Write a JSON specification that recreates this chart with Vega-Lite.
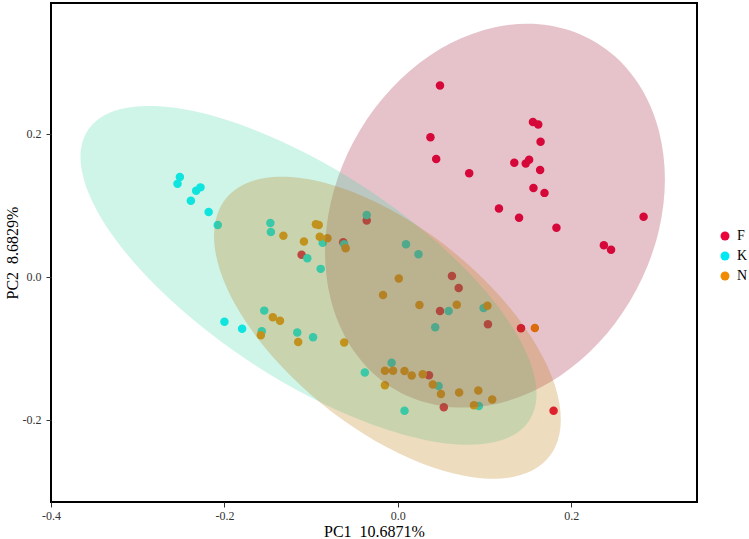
{
  "$schema": "https://vega.github.io/schema/vega-lite/v6.json",
  "width": 646,
  "height": 499,
  "padding": {"left": 4, "top": 3, "right": 0, "bottom": 0},
  "autosize": {"type": "pad"},
  "background": "white",
  "config": {
    "view": {"stroke": "#000000", "strokeWidth": 2},
    "font": "Liberation Serif",
    "axis": {
      "domain": false,
      "grid": false,
      "ticks": true,
      "tickColor": "#333333",
      "tickSize": 5,
      "labelFlush": false,
      "labelFont": "Liberation Serif",
      "labelFontSize": 12,
      "labelColor": "#333333",
      "titleFont": "Liberation Serif",
      "titleFontSize": 16,
      "titleFontWeight": "normal",
      "titleColor": "#000000"
    }
  },
  "datasets": {
    "pts": [
      {"g": "F", "x": 0.0486, "y": 0.2676}, {"g": "F", "x": 0.1558, "y": 0.2164}, {"g": "F", "x": 0.1619, "y": 0.2130},
      {"g": "F", "x": 0.0376, "y": 0.1952}, {"g": "F", "x": 0.1646, "y": 0.1889}, {"g": "F", "x": 0.0442, "y": 0.1647},
      {"g": "F", "x": 0.1343, "y": 0.1594}, {"g": "F", "x": 0.1475, "y": 0.1585}, {"g": "F", "x": 0.1514, "y": 0.1638},
      {"g": "F", "x": 0.1641, "y": 0.1493}, {"g": "F", "x": 0.0823, "y": 0.1449}, {"g": "F", "x": 0.1564, "y": 0.1242},
      {"g": "F", "x": 0.1691, "y": 0.1174}, {"g": "F", "x": 0.1166, "y": 0.0957}, {"g": "F", "x": 0.1398, "y": 0.0826},
      {"g": "F", "x": 0.2834, "y": 0.0841}, {"g": "F", "x": 0.1829, "y": 0.0686}, {"g": "F", "x": 0.2376, "y": 0.0440},
      {"g": "F", "x": 0.2459, "y": 0.0377}, {"g": "F", "x": -0.0359, "y": 0.0787}, {"g": "F", "x": -0.0630, "y": 0.0483},
      {"g": "F", "x": -0.1110, "y": 0.0309}, {"g": "F", "x": 0.0624, "y": 0.0010}, {"g": "F", "x": 0.0702, "y": -0.0155},
      {"g": "F", "x": 0.0486, "y": -0.0478}, {"g": "F", "x": 0.1039, "y": -0.0662}, {"g": "F", "x": 0.1420, "y": -0.0720},
      {"g": "F", "x": 0.0359, "y": -0.1377}, {"g": "F", "x": 0.0530, "y": -0.1826}, {"g": "F", "x": 0.1796, "y": -0.1874},
      {"g": "K", "x": -0.2514, "y": 0.1396}, {"g": "K", "x": -0.2541, "y": 0.1300}, {"g": "K", "x": -0.2276, "y": 0.1251},
      {"g": "K", "x": -0.2326, "y": 0.1203}, {"g": "K", "x": -0.2387, "y": 0.1063}, {"g": "K", "x": -0.2182, "y": 0.0908},
      {"g": "K", "x": -0.2077, "y": 0.0725}, {"g": "K", "x": -0.1470, "y": 0.0754}, {"g": "K", "x": -0.1464, "y": 0.0628},
      {"g": "K", "x": -0.0359, "y": 0.0865}, {"g": "K", "x": -0.0867, "y": 0.0478}, {"g": "K", "x": -0.0619, "y": 0.0454},
      {"g": "K", "x": -0.1044, "y": 0.0261}, {"g": "K", "x": -0.0890, "y": 0.0111}, {"g": "K", "x": 0.0094, "y": 0.0454},
      {"g": "K", "x": 0.0238, "y": 0.0314}, {"g": "K", "x": 0.0586, "y": -0.0478}, {"g": "K", "x": 0.0989, "y": -0.0435},
      {"g": "K", "x": 0.0431, "y": -0.0705}, {"g": "K", "x": -0.2000, "y": -0.0628}, {"g": "K", "x": -0.1796, "y": -0.0725},
      {"g": "K", "x": -0.1541, "y": -0.0473}, {"g": "K", "x": -0.1569, "y": -0.0763}, {"g": "K", "x": -0.1160, "y": -0.0778},
      {"g": "K", "x": -0.0978, "y": -0.0845}, {"g": "K", "x": -0.0072, "y": -0.1203}, {"g": "K", "x": -0.0381, "y": -0.1338},
      {"g": "K", "x": 0.0470, "y": -0.1527}, {"g": "K", "x": 0.0934, "y": -0.1807}, {"g": "K", "x": 0.0077, "y": -0.1874},
      {"g": "N", "x": -0.1320, "y": 0.0575}, {"g": "N", "x": -0.1083, "y": 0.0493}, {"g": "N", "x": -0.0945, "y": 0.0734},
      {"g": "N", "x": -0.0912, "y": 0.0725}, {"g": "N", "x": -0.0901, "y": 0.0560}, {"g": "N", "x": -0.0812, "y": 0.0541},
      {"g": "N", "x": -0.0602, "y": 0.0401}, {"g": "N", "x": 0.0011, "y": -0.0024}, {"g": "N", "x": -0.0171, "y": -0.0256},
      {"g": "N", "x": 0.0249, "y": -0.0396}, {"g": "N", "x": 0.0680, "y": -0.0391}, {"g": "N", "x": 0.1033, "y": -0.0406},
      {"g": "N", "x": 0.1580, "y": -0.0715}, {"g": "N", "x": -0.1442, "y": -0.0565}, {"g": "N", "x": -0.1359, "y": -0.0614},
      {"g": "N", "x": -0.1580, "y": -0.0816}, {"g": "N", "x": -0.1149, "y": -0.0913}, {"g": "N", "x": -0.0619, "y": -0.0918},
      {"g": "N", "x": -0.0149, "y": -0.1314}, {"g": "N", "x": -0.0055, "y": -0.1314}, {"g": "N", "x": 0.0077, "y": -0.1319},
      {"g": "N", "x": 0.0160, "y": -0.1382}, {"g": "N", "x": 0.0287, "y": -0.1362}, {"g": "N", "x": 0.0403, "y": -0.1507},
      {"g": "N", "x": -0.0149, "y": -0.1517}, {"g": "N", "x": 0.0497, "y": -0.1638}, {"g": "N", "x": 0.0707, "y": -0.1618},
      {"g": "N", "x": 0.0928, "y": -0.1589}, {"g": "N", "x": 0.1088, "y": -0.1715}, {"g": "N", "x": 0.0878, "y": -0.1797}
    ],
    "ell": [
      {"g": "F", "o": 0, "x": 0.308, "y": 0.1365}, {"g": "F", "o": 1, "x": 0.3013, "y": 0.2030}, {"g": "F", "o": 2, "x": 0.2817, "y": 0.2615},
      {"g": "F", "o": 3, "x": 0.2506, "y": 0.3080}, {"g": "F", "o": 4, "x": 0.210, "y": 0.3393}, {"g": "F", "o": 5, "x": 0.1627, "y": 0.3533},
      {"g": "F", "o": 6, "x": 0.112, "y": 0.3491}, {"g": "F", "o": 7, "x": 0.0613, "y": 0.3269}, {"g": "F", "o": 8, "x": 0.014, "y": 0.2883},
      {"g": "F", "o": 9, "x": -0.0266, "y": 0.2358}, {"g": "F", "o": 10, "x": -0.0577, "y": 0.1731}, {"g": "F", "o": 11, "x": -0.0773, "y": 0.1044},
      {"g": "F", "o": 12, "x": -0.084, "y": 0.0345}, {"g": "F", "o": 13, "x": -0.0773, "y": -0.0320}, {"g": "F", "o": 14, "x": -0.0577, "y": -0.0905},
      {"g": "F", "o": 15, "x": -0.0266, "y": -0.1370}, {"g": "F", "o": 16, "x": 0.014, "y": -0.1683}, {"g": "F", "o": 17, "x": 0.0613, "y": -0.1823},
      {"g": "F", "o": 18, "x": 0.112, "y": -0.1781}, {"g": "F", "o": 19, "x": 0.1627, "y": -0.1559}, {"g": "F", "o": 20, "x": 0.210, "y": -0.1173},
      {"g": "F", "o": 21, "x": 0.2506, "y": -0.0648}, {"g": "F", "o": 22, "x": 0.2817, "y": -0.0021}, {"g": "F", "o": 23, "x": 0.3013, "y": 0.0666},
      {"g": "K", "o": 0, "x": 0.160, "y": -0.1639}, {"g": "K", "o": 1, "x": 0.151, "y": -0.1144}, {"g": "K", "o": 2, "x": 0.1248, "y": -0.0571},
      {"g": "K", "o": 3, "x": 0.083, "y": 0.0043}, {"g": "K", "o": 4, "x": 0.0285, "y": 0.0655}, {"g": "K", "o": 5, "x": -0.0349, "y": 0.1225},
      {"g": "K", "o": 6, "x": -0.103, "y": 0.1712}, {"g": "K", "o": 7, "x": -0.1711, "y": 0.2083}, {"g": "K", "o": 8, "x": -0.2345, "y": 0.2315},
      {"g": "K", "o": 9, "x": -0.289, "y": 0.2389}, {"g": "K", "o": 10, "x": -0.3308, "y": 0.2303}, {"g": "K", "o": 11, "x": -0.357, "y": 0.206},
      {"g": "K", "o": 12, "x": -0.366, "y": 0.1679}, {"g": "K", "o": 13, "x": -0.357, "y": 0.1184}, {"g": "K", "o": 14, "x": -0.3308, "y": 0.0611},
      {"g": "K", "o": 15, "x": -0.289, "y": -0.0003}, {"g": "K", "o": 16, "x": -0.2345, "y": -0.0615}, {"g": "K", "o": 17, "x": -0.1711, "y": -0.1185},
      {"g": "K", "o": 18, "x": -0.103, "y": -0.1672}, {"g": "K", "o": 19, "x": -0.0349, "y": -0.2043}, {"g": "K", "o": 20, "x": 0.0285, "y": -0.2275},
      {"g": "K", "o": 21, "x": 0.083, "y": -0.2349}, {"g": "K", "o": 22, "x": 0.1248, "y": -0.2263}, {"g": "K", "o": 23, "x": 0.151, "y": -0.202},
      {"g": "N", "o": 0, "x": 0.188, "y": -0.1998}, {"g": "N", "o": 1, "x": 0.1812, "y": -0.152}, {"g": "N", "o": 2, "x": 0.1612, "y": -0.0988},
      {"g": "N", "o": 3, "x": 0.1294, "y": -0.0437}, {"g": "N", "o": 4, "x": 0.088, "y": 0.0095}, {"g": "N", "o": 5, "x": 0.0398, "y": 0.0573},
      {"g": "N", "o": 6, "x": -0.012, "y": 0.0964}, {"g": "N", "o": 7, "x": -0.0638, "y": 0.1239}, {"g": "N", "o": 8, "x": -0.112, "y": 0.1381},
      {"g": "N", "o": 9, "x": -0.1534, "y": 0.1382}, {"g": "N", "o": 10, "x": -0.1852, "y": 0.1239}, {"g": "N", "o": 11, "x": -0.2052, "y": 0.0963},
      {"g": "N", "o": 12, "x": -0.212, "y": 0.0573}, {"g": "N", "o": 13, "x": -0.2052, "y": 0.0095}, {"g": "N", "o": 14, "x": -0.1852, "y": -0.0438},
      {"g": "N", "o": 15, "x": -0.1534, "y": -0.0989}, {"g": "N", "o": 16, "x": -0.112, "y": -0.1521}, {"g": "N", "o": 17, "x": -0.0638, "y": -0.1999},
      {"g": "N", "o": 18, "x": -0.012, "y": -0.2389}, {"g": "N", "o": 19, "x": 0.0398, "y": -0.2665}, {"g": "N", "o": 20, "x": 0.088, "y": -0.2807},
      {"g": "N", "o": 21, "x": 0.1294, "y": -0.2807}, {"g": "N", "o": 22, "x": 0.1612, "y": -0.2664}, {"g": "N", "o": 23, "x": 0.1812, "y": -0.2388}
    ]
  },
  "encoding": {
    "x": {
      "type": "quantitative",
      "scale": {"domain": [-0.4, 0.345], "zero": false, "nice": false},
      "axis": {
        "title": "PC1\u00a0 10.6871%",
        "values": [-0.4, -0.2, 0, 0.2],
        "labelExpr": "replace(format(datum.value, '.1f'), '\u2212', '-')",
        "labelPadding": 3,
        "titlePadding": 2
      }
    },
    "y": {
      "type": "quantitative",
      "scale": {"domain": [-0.315, 0.383], "zero": false, "nice": false},
      "axis": {
        "title": "PC2\u00a0 8.6829%",
        "values": [-0.2, 0, 0.2],
        "labelExpr": "replace(format(datum.value, '.1f'), '\u2212', '-')",
        "labelPadding": 5,
        "titlePadding": 2
      }
    }
  },
  "layer": [
    {
      "mark": {"type": "rule", "color": "#9e9e9e", "strokeDash": [6, 4], "strokeWidth": 1.2},
      "encoding": {"x": {"datum": 0, "type": "quantitative"}}
    },
    {
      "mark": {"type": "rule", "color": "#9e9e9e", "strokeDash": [6, 4], "strokeWidth": 1.2},
      "encoding": {"y": {"datum": 0, "type": "quantitative"}}
    },
    {
      "data": {"name": "pts"},
      "mark": {"type": "circle", "size": 72, "opacity": 1},
      "encoding": {
        "x": {"field": "x", "type": "quantitative"},
        "y": {"field": "y", "type": "quantitative"},
        "color": {
          "field": "g",
          "type": "nominal",
          "scale": {"domain": ["F", "K", "N"], "range": ["#E8063C", "#00E8F2", "#F08A00"]},
          "legend": {
            "title": null,
            "orient": "none",
            "legendX": 667,
            "legendY": 226,
            "symbolType": "circle",
            "symbolSize": 80,
            "labelFont": "Liberation Serif",
            "labelFontSize": 14,
            "labelColor": "#000000",
            "labelOffset": 5,
            "rowPadding": 6,
            "padding": 0
          }
        }
      }
    },
    {
      "data": {"name": "ell"},
      "mark": {"type": "line", "interpolate": "cardinal-closed", "strokeWidth": 0, "fillOpacity": 0.25, "clip": true},
      "encoding": {
        "x": {"field": "x", "type": "quantitative"},
        "y": {"field": "y", "type": "quantitative"},
        "order": {"field": "o", "type": "quantitative"},
        "detail": {"field": "g", "type": "nominal"},
        "fill": {
          "field": "g",
          "type": "nominal",
          "scale": {"domain": ["F", "K", "N"], "range": ["#9B0F2F", "#3BD7A3", "#BB7300"]},
          "legend": null
        }
      }
    }
  ]
}
